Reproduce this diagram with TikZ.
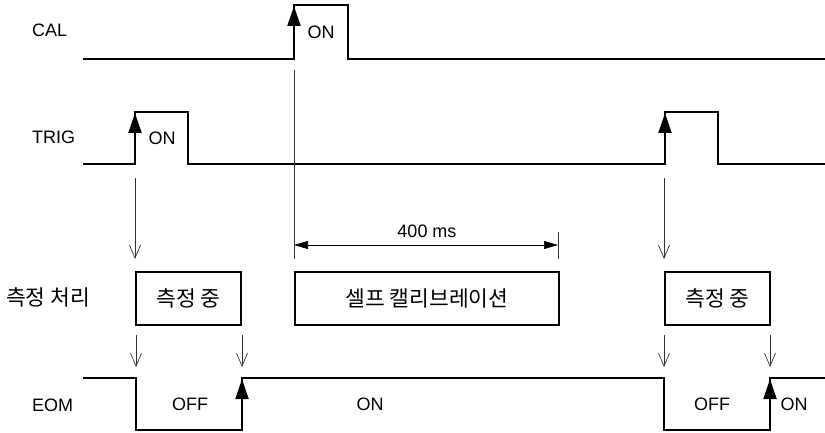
\documentclass[tikz,border=0pt]{standalone}
\usepackage{fontspec}
\setmainfont{Liberation Sans}
\newfontfamily\kr{Noto Sans CJK KR}
\usetikzlibrary{arrows.meta}
\begin{document}
\begin{tikzpicture}[x=1pt,y=-1pt,
  wave/.style={line width=2pt, line join=miter},
  thinarrow/.style={line width=0.7pt, black!80, -{Straight Barb[length=13pt,width=11pt]}},
  edgetip/.style={line width=2pt, -{Triangle[length=20pt,width=13pt]}},
  dimline/.style={line width=0.7pt, {Triangle[length=14pt,width=8pt]}-{Triangle[length=14pt,width=8pt]}},
  extline/.style={line width=0.7pt, black!80},
  lbl/.style={font=\fontsize{18}{21}\selectfont, anchor=west, inner sep=0},
  txt/.style={font=\fontsize{18}{21}\selectfont, inner sep=0},
  krtxt/.style={font=\kr\fontsize{21.5}{25}\selectfont, inner sep=0},
  procbox/.style={draw, line width=2pt, anchor=north west, minimum height=53pt, inner sep=0, font=\kr\fontsize{21.5}{25}\selectfont}]
\useasboundingbox (0,0) rectangle (825,433);

% labels
\node[lbl] (lcal) at (32,30) {CAL};
\node[lbl] (ltrig) at (32,137) {TRIG};
\node[krtxt, anchor=west] (lproc) at (6,297) {측정 처리};
\node[lbl] (leom) at (32,405) {EOM};

% CAL waveform
\draw[wave] (83,59) -- (294,59) -- (294,5) -- (348,5) -- (348,59) -- (825,59);
\coordinate (calbase) at (294,30);
\coordinate (caltop) at (294,6);
\draw[edgetip] (calbase) -- (caltop);
\node[txt] (calon) at (321,32) {ON};

% TRIG waveform
\draw[wave] (83,164) -- (135,164) -- (135,112) -- (188,112) -- (188,164) -- (665,164) -- (665,112) -- (718,112) -- (718,164) -- (825,164);
\coordinate (t1base) at (135,136);
\coordinate (t1top) at (135,113);
\coordinate (t2base) at (665,136);
\coordinate (t2top) at (665,113);
\draw[edgetip] (t1base) -- (t1top);
\draw[edgetip] (t2base) -- (t2top);
\node[txt] (trigon) at (162,138) {ON};

% boxes
\node[procbox, minimum width=105pt] (m1) at (135,271) {측정 중};
\node[procbox, minimum width=264pt] (cal) at (294,271) {셀프 캘리브레이션};
\node[procbox, minimum width=105pt] (m2) at (664,271) {측정 중};

% trigger arrows
\coordinate (a1s) at (135,178);
\coordinate (a1e) at (135,259);
\coordinate (a2s) at (664,178);
\coordinate (a2e) at (664,259);
\draw[thinarrow] (a1s) -- (a1e);
\draw[thinarrow] (a2s) -- (a2e);

% calibration extension lines and dimension
\coordinate (e1s) at (294,70);
\coordinate (e1e) at (294,259);
\coordinate (e2s) at (558,232);
\coordinate (e2e) at (558,259);
\draw[extline] (e1s) -- (e1e);
\draw[extline] (e2s) -- (e2e);
\coordinate (d1) at (294,245);
\coordinate (d2) at (558,245);
\draw[dimline] (d1) -- (d2);
\node[txt] (dimtxt) at (427,231) {400 ms};

% box to EOM arrows
\coordinate (b1s) at (136,335);
\coordinate (b1e) at (136,367);
\coordinate (b2s) at (242,335);
\coordinate (b2e) at (242,367);
\coordinate (b3s) at (664,335);
\coordinate (b3e) at (664,367);
\coordinate (b4s) at (770,335);
\coordinate (b4e) at (770,367);
\draw[thinarrow] (b1s) -- (b1e);
\draw[thinarrow] (b2s) -- (b2e);
\draw[thinarrow] (b3s) -- (b3e);
\draw[thinarrow] (b4s) -- (b4e);

% EOM waveform
\draw[wave] (83,378) -- (136,378) -- (136,430) -- (242,430) -- (242,378) -- (664,378) -- (664,430) -- (770,430) -- (770,378) -- (825,378);
\coordinate (e1base) at (242,401);
\coordinate (e1top) at (242,379);
\coordinate (e2base) at (770,401);
\coordinate (e2top) at (770,379);
\draw[edgetip] (e1base) -- (e1top);
\draw[edgetip] (e2base) -- (e2top);
\node[txt] (eoff1) at (190,404) {OFF};
\node[txt] (eon1) at (370,404) {ON};
\node[txt] (eoff2) at (712,404) {OFF};
\node[txt] (eon2) at (794,404) {ON};
\end{tikzpicture}
\end{document}
